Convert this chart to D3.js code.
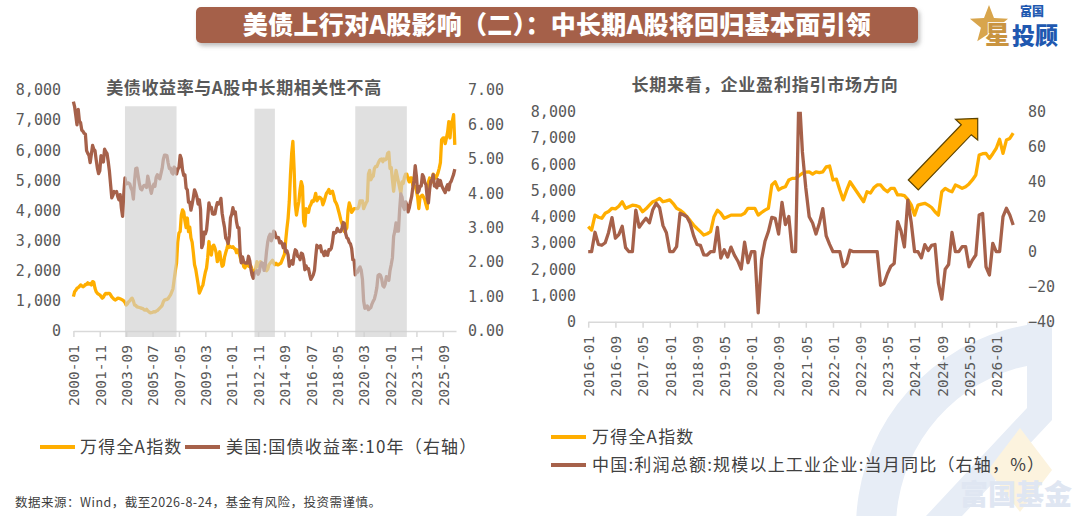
<!DOCTYPE html>
<html><head><meta charset="utf-8">
<script src="https://cdn.jsdelivr.net/npm/d3@7/dist/d3.min.js"></script>
<style>body{margin:0;background:#fff;}svg{display:block;}</style>
</head><body>
<svg id="c" width="1080" height="516"></svg>
<script>
// ---------------- DATA ----------------
const mainTitle = "美债上行对A股影响（二）：中长期A股将回归基本面引领";
const leftTitle = "美债收益率与A股中长期相关性不高";
const rightTitle = "长期来看，企业盈利指引市场方向";
const footnote = "数据来源：Wind，截至2026-8-24，基金有风险，投资需谨慎。";

// Monthly series start
const windStart = "2000-01";
// 万得全A指数, monthly 2000-01 .. 2026-07
const windAllA = [
 1140,1300,1350,1420,1440,1480,1530,1500,1470,1490,1550,1540,
 1600,1560,1580,1530,1640,1620,1420,1300,1250,1220,1200,1150,
 1090,1120,1200,1250,1230,1250,1250,1200,1130,1090,1050,1030,
 1060,1090,1080,1070,1050,1030,1000,950,860,900,970,1000,
 1060,1090,1000,860,850,800,790,780,770,750,740,700,
 690,720,670,640,600,610,620,640,630,660,680,720,
 760,800,850,970,1030,1050,1040,1080,1140,1200,1300,1400,
 1700,2000,2250,2950,3250,3300,3850,4020,3950,3650,3430,3750,
 3300,3450,3090,2950,2600,2200,2050,1800,1550,1260,1350,1450,
 1530,1750,1950,2090,2450,2970,2600,2520,2800,2850,2750,2600,
 2300,2450,2630,2350,2150,2190,2450,2600,2740,2900,2780,2800,
 2780,2800,2740,2720,2600,2690,2600,2450,2300,2350,2140,2100,
 2190,2250,2150,2200,2150,2030,1950,1950,2050,2300,2150,2200,
 2300,2250,2150,2100,2200,2000,2050,2200,2250,2300,2350,2250,
 2200,2250,2200,2200,2230,2250,2350,2450,2550,3000,3400,3740,
 4300,5200,5900,6290,5400,4200,3850,4100,4300,4700,4960,4800,
 3620,3490,4060,3980,3940,4130,4200,4320,4300,4400,4570,4320,
 4380,4440,4420,4380,4190,4300,4440,4570,4620,4700,4570,4600,
 4640,4500,4320,4250,4150,4000,3850,3680,3550,3430,3300,3350,
 3430,4000,4250,4130,3940,4000,4060,4060,4060,4060,4130,4320,
 4320,4320,4060,4160,4250,4320,5210,5330,5020,5100,5140,5400,
 5460,5460,5560,5650,5700,5710,5620,5710,5680,5710,5900,5930,
 5400,5430,5020,4640,5000,5330,5140,4950,4760,4570,4950,4900,
 5100,5210,5210,5050,4950,5080,5080,4830,4830,4800,4660,4450,
 4060,4440,4480,4510,4440,4350,4190,4060,4950,5080,5000,4950,
 5210,5150,5080,5140,5250,5400,5590,6350,6400,6410,6220,6400,
 6600,6950,6410,6920,6980,7180,6180
];
// 美国:国债收益率:10年, monthly 2000-01 .. 2026-07
const ust10y = [
 6.66,6.52,6.26,5.99,6.44,6.10,6.05,5.83,5.80,5.74,5.72,5.24,
 5.16,5.10,4.89,5.14,5.39,5.28,5.24,4.97,4.73,4.57,4.65,5.09,
 5.04,4.91,5.28,5.21,5.16,4.93,4.65,4.26,3.87,3.94,4.05,4.03,
 4.05,3.90,3.81,3.96,3.57,3.33,3.98,4.45,4.27,4.29,4.30,4.27,
 4.15,4.08,3.83,4.35,4.72,4.73,4.50,4.28,4.13,4.10,4.19,4.23,
 4.22,4.17,4.50,4.34,4.14,4.00,4.18,4.26,4.20,4.46,4.54,4.47,
 4.42,4.57,4.72,4.99,5.11,5.11,5.09,4.88,4.72,4.73,4.60,4.56,
 4.76,4.72,4.56,4.69,4.75,5.10,5.00,4.67,4.52,4.53,4.15,4.10,
 3.74,3.74,3.51,3.68,3.88,4.10,4.01,3.89,3.69,3.81,3.53,2.42,
 2.52,2.87,2.82,2.93,3.29,3.72,3.56,3.59,3.40,3.39,3.40,3.59,
 3.73,3.69,3.73,3.85,3.42,3.20,3.01,2.70,2.65,2.54,2.76,3.29,
 3.39,3.58,3.41,3.46,3.17,3.00,3.00,2.30,1.98,2.15,2.01,1.98,
 1.97,1.97,2.17,2.05,1.80,1.62,1.53,1.68,1.72,1.75,1.65,1.72,
 1.91,1.98,1.96,1.76,1.93,2.30,2.58,2.74,2.81,2.62,2.72,2.90,
 2.86,2.71,2.72,2.71,2.56,2.60,2.54,2.42,2.53,2.30,2.33,2.21,
 1.88,1.98,2.04,1.94,2.20,2.36,2.32,2.17,2.17,2.07,2.26,2.24,
 2.09,1.78,1.89,1.81,1.81,1.64,1.50,1.56,1.63,1.76,2.14,2.49,
 2.43,2.42,2.48,2.30,2.30,2.19,2.32,2.21,2.20,2.36,2.35,2.40,
 2.58,2.86,2.84,2.87,2.98,2.91,2.89,2.89,3.00,3.15,3.12,2.83,
 2.71,2.68,2.57,2.53,2.40,2.07,2.06,1.63,1.70,1.71,1.81,1.86,
 1.76,1.50,0.87,0.66,0.67,0.73,0.62,0.65,0.68,0.79,0.87,0.93,
 1.08,1.26,1.61,1.64,1.62,1.52,1.32,1.28,1.37,1.58,1.56,1.47,
 1.76,1.93,2.13,2.75,2.90,3.14,2.90,2.90,3.52,3.98,3.89,3.62,
 3.53,3.75,3.66,3.46,3.57,3.75,3.90,4.17,4.38,4.80,4.50,4.02,
 4.06,4.21,4.21,4.54,4.48,4.31,4.25,3.87,3.72,4.10,4.36,4.39,
 4.54,4.21,4.21,4.16,4.40,4.23,4.37,4.23,4.15,4.08,4.02,4.17,
 4.25,4.10,4.30,4.35,4.45,4.55,4.70
];
// Shaded periods (left chart)
const shadeBands = [["2003-08","2007-03"],["2012-08","2014-01"],["2019-08","2023-03"]];
const leftTickLabels = ["2000-01","2001-11","2003-09","2005-07","2007-05","2009-03","2011-01","2012-11","2014-09","2016-07","2018-05","2020-03","2022-01","2023-11","2025-09"];
const leftYTicks = [0,1000,2000,3000,4000,5000,6000,7000,8000];
const leftY2Ticks = [0,1,2,3,4,5,6,7];

// Right chart: 2016-01 .. 2026-06
const rightStart = "2016-01";
const rightEnd = "2026-06";
// 中国:利润总额:规模以上工业企业:当月同比 (%)
const profitYoY = [
 0,0,11.1,4.2,3.7,5.1,11,19.5,7.7,9.8,14.5,2.3,
 0,0,23.8,14,16.7,19.1,16.5,24,27.7,25.1,14.9,10.8,
 0,0,2.9,21.9,21.1,20,16.2,9.2,4.1,3.6,-1.8,-1.9,
 0,0,13.9,-3.7,1.1,-3.1,2.6,-2,-5.3,-9.9,5.4,-6.3,
 0,0,-34.9,-4.3,6,11.5,19.6,19.1,10.1,28.2,15.5,20.1,
 0,0,92.3,57,36.4,20,16.4,10.1,16.3,24.6,9,4.2,
 0,0,0,-8.5,-6.5,0.8,0,0,0,0,0,0,
 0,0,-19.2,-18.2,-12.6,-8.3,-6.7,17.2,11.9,2.7,29.5,16.8,
 0,0,-3.5,4,0.7,3.6,4.1,-17.8,-27.1,-10,-7.3,11,
 0,0,2.9,2.9,-8.6,-4.8,-1.9,21,21.9,-8.6,-13.3,4.8,
 0,0,20,24.8,21,15.2
];
const rightTickLabels = ["2016-01","2016-09","2017-05","2018-01","2018-09","2019-05","2020-01","2020-09","2021-05","2022-01","2022-09","2023-05","2024-01","2024-09","2025-05","2026-01"];
const rightYTicks = [0,1000,2000,3000,4000,5000,6000,7000,8000];
const rightY2Ticks = [-40,-20,0,20,40,60,80];

const legendLeft = ["万得全A指数","美国:国债收益率:10年（右轴）"];
const legendRight = ["万得全A指数","中国:利润总额:规模以上工业企业:当月同比（右轴，%）"];

// ---------------- DRAW ----------------
const YEL = "#FFAE00", BRN = "#A6614A", TXT = "#595959", LEG = "#404040";
const NUM = "'DejaVu Sans Mono', monospace";
const CJK = "'Noto Sans CJK SC', 'Noto Sans', sans-serif";
const mi = s => { const [y,m] = s.split("-").map(Number); return y*12 + m - 1; };
const svg = d3.select("#c");
const defs = svg.append("defs");
const f = defs.append("filter").attr("id","sh").attr("x","-5%").attr("y","-20%").attr("width","110%").attr("height","160%");
f.append("feDropShadow").attr("dx",2).attr("dy",3).attr("stdDeviation",2).attr("flood-color","#888").attr("flood-opacity",0.55);

// watermark (bottom right)
const wm = svg.append("g").attr("fill","#e7edf6");
wm.append("path").attr("transform","translate(1062,528)")
  .attr("d", d3.arc().innerRadius(166).outerRadius(206).startAngle(-2.7).endAngle(-0.12)());
wm.append("path").attr("d","M1027,322 L1052,322 L1052,420 L962,516 L926,516 L1027,408 Z");
svg.append("path").attr("d","M1020,428 L1052,470 L1020,512 L988,470 Z").attr("fill","#fcf3de");
svg.append("text").attr("x",1016).attr("y",505).attr("text-anchor","middle")
  .attr("font-family",CJK).attr("font-weight",900).attr("font-size",28).attr("fill","#dfe6f2").text("富国基金");

// title bar
svg.append("rect").attr("x",196).attr("y",7).attr("width",722).attr("height",36).attr("rx",5)
  .attr("fill","#A5614A").attr("filter","url(#sh)");
svg.append("text").attr("x",557).attr("y",34).attr("text-anchor","middle")
  .attr("font-family",CJK).attr("font-weight",900).attr("font-size",25).attr("fill","#fff")
  .attr("letter-spacing",0.3).text(mainTitle);

// logo
(function(){
  const cx=989, cy=25, R=20, r=8.5, pts=[];
  for(let k=0;k<10;k++){ const a=-Math.PI/2 + k*Math.PI/5; const rr = k%2? r:R; pts.push([cx+rr*Math.cos(a), cy+rr*Math.sin(a)]); }
  svg.append("polygon").attr("points",pts.map(p=>p.join(",")).join(" ")).attr("fill","#D8A54C");
  svg.append("text").attr("x",1020).attr("y",16).attr("font-family",CJK).attr("font-weight",900).attr("font-size",12).attr("fill","#2058B0").text("富国");
  svg.append("text").attr("x",985).attr("y",44).attr("font-family",CJK).attr("font-weight",900).attr("font-size",25)
    .attr("fill","#C99440").attr("stroke","#fff").attr("stroke-width",1.5).attr("paint-order","stroke").text("星");
  svg.append("text").attr("x",1012).attr("y",44).attr("font-family",CJK).attr("font-weight",900).attr("font-size",23).attr("fill","#2058B0").text("投顾");
})();

// ---------- LEFT CHART ----------
const L = svg.append("g");
const l0 = mi(windStart);
const nL = windAllA.length;
const xL = d3.scaleLinear().domain([0, nL]).range([73.4, 456]);
const yL = d3.scaleLinear().domain([0, 8000]).range([331, 90]);
const yL2 = d3.scaleLinear().domain([0, 7]).range([331, 90]);

L.append("text").attr("x",244).attr("y",94).attr("text-anchor","middle").attr("font-family",CJK)
  .attr("font-weight",700).attr("font-size",17).attr("letter-spacing",0.6).attr("fill",TXT).text(leftTitle);

const axL = L.append("g").attr("transform","translate(0,331)")
  .call(d3.axisBottom(xL).tickValues(leftTickLabels.map(s=>mi(s)-l0)).tickFormat((d,i)=>leftTickLabels[i]).tickSize(6).tickSizeOuter(0));
function styleX(ax){
  ax.select(".domain").attr("stroke","#d9d9d9").attr("stroke-width",1.5);
  ax.selectAll(".tick line").attr("stroke","#d9d9d9").attr("stroke-width",1.5);
  ax.selectAll(".tick text").attr("transform","rotate(-90)").attr("x",-14).attr("y",0).attr("dy","0.36em")
    .attr("text-anchor","end").attr("font-family",NUM).attr("font-size",14.5).attr("fill",TXT);
}
styleX(axL);
function styleY(ax, anchor){
  ax.select(".domain").remove(); ax.selectAll(".tick line").remove();
  ax.selectAll(".tick text").attr("font-family",NUM).attr("font-size",15).attr("fill",TXT).attr("text-anchor",anchor);
}
const ayL = L.append("g").attr("transform","translate(61,0)")
  .call(d3.axisLeft(yL).tickValues(leftYTicks).tickFormat(d3.format(",")).tickSize(0).tickPadding(0));
styleY(ayL,"end");
const ayL2 = L.append("g").attr("transform","translate(468,0)")
  .call(d3.axisRight(yL2).tickValues(leftY2Ticks).tickFormat(d3.format(".2f")).tickSize(0).tickPadding(0));
styleY(ayL2,"start");

L.append("path").datum(windAllA).attr("fill","none").attr("stroke",YEL).attr("stroke-width",3.3).attr("stroke-linejoin","round")
  .attr("d", d3.line().x((d,i)=>xL(i)).y(d=>yL(d)));
L.append("path").datum(ust10y).attr("fill","none").attr("stroke",BRN).attr("stroke-width",3.3).attr("stroke-linejoin","round")
  .attr("d", d3.line().x((d,i)=>xL(i)).y(d=>yL2(d)));

L.selectAll("rect.band").data(shadeBands).join("rect").attr("class","band")
  .attr("x", d=>xL(mi(d[0])-l0)).attr("width", d=>xL(mi(d[1])-l0)-xL(mi(d[0])-l0))
  .attr("y", (d,i)=> i===1 ? yL(7380) : yL(7460)).attr("height",(d,i)=> 337 - (i===1 ? yL(7380) : yL(7460)))
  .attr("fill","#cfcfcf").attr("fill-opacity",0.65);

// left legend
const lgL = L.append("g").attr("font-family",CJK).attr("font-size",17).attr("letter-spacing",1.2).attr("fill",LEG);
lgL.append("line").attr("x1",40).attr("x2",75).attr("y1",447).attr("y2",447).attr("stroke",YEL).attr("stroke-width",4);
lgL.append("text").attr("x",80).attr("y",453).text(legendLeft[0]);
lgL.append("line").attr("x1",185).attr("x2",220).attr("y1",447).attr("y2",447).attr("stroke",BRN).attr("stroke-width",4);
lgL.append("text").attr("x",226).attr("y",453).text(legendLeft[1]);

// ---------- RIGHT CHART ----------
const R = svg.append("g");
const r0 = mi(rightStart), r1 = mi(rightEnd);
const windRight = windAllA.slice(r0 - l0, r1 - l0 + 1);
const xR = d3.scaleLinear().domain([0, profitYoY.length]).range([588.2, 1016.6]);
const yR = d3.scaleLinear().domain([0, 8000]).range([321.7, 111.7]);
const yR2 = d3.scaleLinear().domain([-40, 80]).range([321.7, 111.7]);

R.append("text").attr("x",765).attr("y",91).attr("text-anchor","middle").attr("font-family",CJK)
  .attr("font-weight",700).attr("font-size",17).attr("letter-spacing",0.8).attr("fill",TXT).text(rightTitle);

const axR = R.append("g").attr("transform","translate(0,321.7)")
  .call(d3.axisBottom(xR).tickValues(rightTickLabels.map(s=>mi(s)-r0)).tickFormat((d,i)=>rightTickLabels[i]).tickSize(6).tickSizeOuter(0));
styleX(axR);
const ayR = R.append("g").attr("transform","translate(576,0)")
  .call(d3.axisLeft(yR).tickValues(rightYTicks).tickFormat(d3.format(",")).tickSize(0).tickPadding(0));
styleY(ayR,"end");
const ayR2 = R.append("g").attr("transform","translate(1028,0)")
  .call(d3.axisRight(yR2).tickValues(rightY2Ticks).tickFormat(d3.format("d")).tickSize(0).tickPadding(0));
styleY(ayR2,"start");

defs.append("clipPath").attr("id","clipR").append("rect").attr("x",580).attr("y",yR2(80)).attr("width",450).attr("height",230);
R.append("path").datum(windRight).attr("fill","none").attr("stroke",YEL).attr("stroke-width",3.3).attr("stroke-linejoin","round")
  .attr("d", d3.line().x((d,i)=>xR(i)).y(d=>yR(d)));
R.append("path").datum(profitYoY).attr("clip-path","url(#clipR)").attr("fill","none").attr("stroke",BRN).attr("stroke-width",3.3).attr("stroke-linejoin","round")
  .attr("d", d3.line().x((d,i)=>xR(i)).y(d=>yR2(d)));

// arrow annotation
R.append("polygon")
  .attr("points","908.3,180 961.3,124.7 955.5,119.3 977.7,118.3 977.7,140 971.3,134.7 918.3,190")
  .attr("fill","#FFAA00").attr("stroke","#5C4300").attr("stroke-width",1.2).attr("stroke-linejoin","miter");

// right legend
const lgR = R.append("g").attr("font-family",CJK).attr("font-size",17).attr("letter-spacing",1.2).attr("fill",LEG);
lgR.append("line").attr("x1",551).attr("x2",586).attr("y1",437).attr("y2",437).attr("stroke",YEL).attr("stroke-width",4);
lgR.append("text").attr("x",592).attr("y",443).text(legendRight[0]);
lgR.append("line").attr("x1",551).attr("x2",586).attr("y1",465).attr("y2",465).attr("stroke",BRN).attr("stroke-width",4);
lgR.append("text").attr("x",592).attr("y",471).text(legendRight[1]);

// footnote
svg.append("text").attr("x",15).attr("y",507).attr("font-family",CJK).attr("font-size",12.5).attr("letter-spacing",0.5).attr("fill",LEG).text(footnote);
</script>
</body></html>
